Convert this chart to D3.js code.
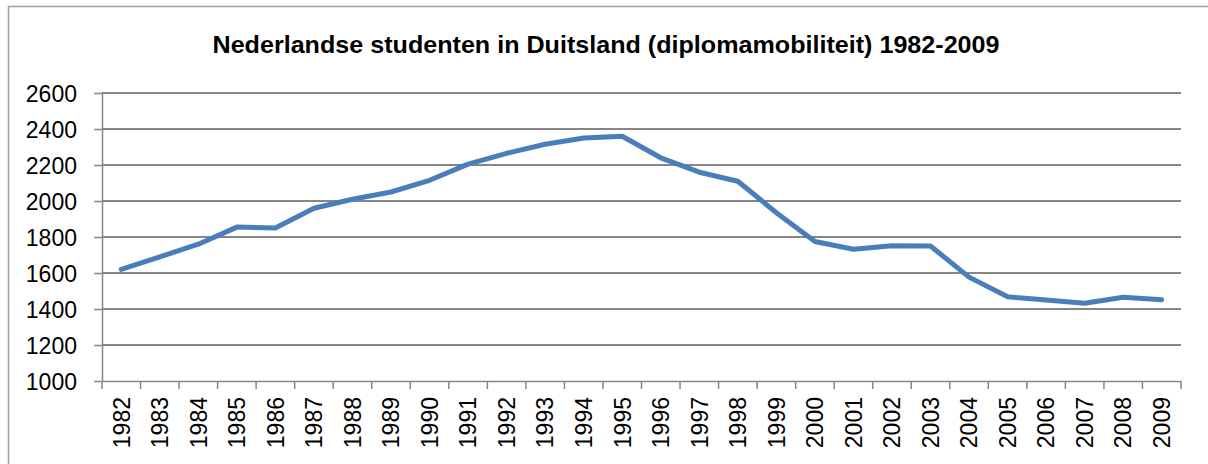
<!DOCTYPE html>
<html>
<head>
<meta charset="utf-8">
<script src="https://cdn.jsdelivr.net/npm/d3@7"></script>
<style>
  body { margin: 0; background: #fff; }
  .axis text { font-family: "Liberation Sans", Arial, sans-serif; font-size: 23px; fill: #000; }
  .axis path, .axis line { stroke: #868686; stroke-width: 1.5; }
</style>
</head>
<body>
<script>
// chart data
var years = ["1982","1983","1984","1985","1986","1987","1988","1989","1990","1991",
             "1992","1993","1994","1995","1996","1997","1998","1999","2000","2001",
             "2002","2003","2004","2005","2006","2007","2008","2009"];
var students = [1620, 1690, 1760, 1855, 1850, 1960, 2010, 2050, 2115, 2205,
                2265, 2315, 2350, 2360, 2240, 2160, 2110, 1935, 1775, 1732,
                1752, 1750, 1577, 1468, 1450, 1432, 1465, 1452];
var yTicks = [1000, 1200, 1400, 1600, 1800, 2000, 2200, 2400, 2600];
var title = "Nederlandse studenten in Duitsland (diplomamobiliteit) 1982-2009";

// set up variables
var canvasWidth = 1208,
    canvasHeight = 464,
    margin = {top: 93, right: 27, bottom: 83, left: 102},
    plotWidth = canvasWidth - margin.left - margin.right,
    plotHeight = canvasHeight - margin.top - margin.bottom;

var figure = d3.select("body")
    .append("svg")
        .attr("width", canvasWidth)
        .attr("height", canvasHeight);

// outer chart frame (runs off the right and bottom edge)
figure.append("rect")
    .attr("x", 8.5)
    .attr("y", 6.5)
    .attr("width", 1300)
    .attr("height", 600)
    .attr("fill", "#fff")
    .attr("stroke", "#a0a0a0")
    .attr("stroke-width", 1.5);

var x = d3.scaleBand()
    .domain(years)
    .range([margin.left, margin.left + plotWidth]);
var y = d3.scaleLinear()
    .domain([1000, 2600])
    .range([margin.top + plotHeight, margin.top]);

// gridlines
figure.append("g")
    .selectAll("line")
    .data(yTicks.slice(1))
    .enter()
    .append("line")
    .attr("x1", margin.left)
    .attr("x2", margin.left + plotWidth)
    .attr("y1", function(d) { return y(d); })
    .attr("y2", function(d) { return y(d); })
    .attr("stroke", "#868686")
    .attr("stroke-width", 2);

// y axis
var yAxis = figure.append("g")
    .attr("class", "axis")
    .attr("transform", "translate(" + margin.left + ", 0)")
    .call(d3.axisLeft(y)
        .tickValues(yTicks)
        .tickFormat(d3.format("d"))
        .tickSize(8)
        .tickPadding(17)
        .tickSizeOuter(0));
yAxis.selectAll("text").attr("dy", "0.36em");

// x axis, ticks on category boundaries
var xAxis = figure.append("g")
    .attr("class", "axis")
    .attr("transform", "translate(0, " + (margin.top + plotHeight) + ")")
    .call(d3.axisBottom(x).tickSize(0).tickSizeOuter(0));
xAxis.selectAll("text")
    .attr("transform", "rotate(-90)")
    .attr("text-anchor", "end")
    .attr("x", -16)
    .attr("y", 0)
    .attr("dy", "0.36em");
xAxis.selectAll(".boundary")
    .data(years.concat(["end"]))
    .enter()
    .append("line")
    .attr("class", "boundary")
    .attr("x1", function(d, i) { return margin.left + i * x.step(); })
    .attr("x2", function(d, i) { return margin.left + i * x.step(); })
    .attr("y1", 0)
    .attr("y2", 8);

// the line
var line = d3.line()
    .x(function(d, i) { return x(years[i]) + x.bandwidth() / 2; })
    .y(function(d) { return y(d); });

figure.append("path")
    .datum(students)
    .attr("d", line)
    .attr("fill", "none")
    .attr("stroke", "#4a7ebb")
    .attr("stroke-width", 5)
    .attr("stroke-linejoin", "round")
    .attr("stroke-linecap", "round");

// title
figure.append("text")
    .attr("x", 606)
    .attr("y", 53)
    .attr("text-anchor", "middle")
    .attr("font-family", "'Liberation Sans', Arial, sans-serif")
    .attr("font-weight", "bold")
    .attr("font-size", 24)
    .attr("textLength", 787)
    .attr("lengthAdjust", "spacingAndGlyphs")
    .text(title);
</script>
</body>
</html>
